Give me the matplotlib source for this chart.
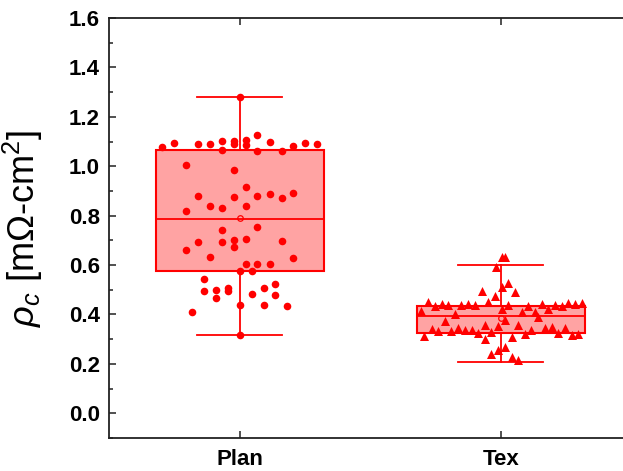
import matplotlib
matplotlib.use("Agg")
import matplotlib.pyplot as plt
from matplotlib.ticker import MultipleLocator

# --------------------------------------------------------------------------- #
# Data
# --------------------------------------------------------------------------- #
groups = ["Plan", "Tex"]

# box statistics: q1, median, q3, whisker low, whisker high, mean
plan_stats = dict(q1=0.575, med=0.787, q3=1.066, whislo=0.316, whishi=1.281, mean=0.789)
tex_stats = dict(q1=0.327, med=0.392, q3=0.435, whislo=0.209, whishi=0.599, mean=0.387)

# individual measurements, with the horizontal jitter offset of each point
plan_vals = [1.077, 1.096, 1.092, 1.090, 1.104, 1.066, 1.102, 1.090, 1.107, 1.084,
             1.125, 1.062, 1.098, 1.060, 1.083, 1.094, 1.090, 1.281,
             1.007, 0.983, 0.914, 0.879, 0.876, 0.881, 0.887, 0.870, 0.890,
             0.840, 0.830, 0.840, 0.818,
             0.740, 0.753, 0.694, 0.693, 0.702, 0.707, 0.697, 0.672, 0.659,
             0.631, 0.629, 0.606, 0.606, 0.604, 0.576, 0.576,
             0.545, 0.496, 0.500, 0.467, 0.508, 0.497, 0.482, 0.509, 0.525,
             0.477, 0.440, 0.440, 0.433, 0.409, 0.315]
plan_jit = [-0.299, -0.253, -0.161, -0.115, -0.069, -0.069, -0.023, -0.023, 0.023, 0.023,
            0.068, 0.068, 0.115, 0.161, 0.206, 0.252, 0.298, 0.0,
            -0.207, -0.023, 0.023, -0.161, -0.023, 0.068, 0.115, 0.161, 0.206,
            -0.115, -0.069, 0.023, -0.207,
            -0.069, 0.068, -0.161, -0.069, -0.023, 0.023, 0.161, -0.023, -0.207,
            -0.115, 0.206, 0.023, 0.068, 0.115, 0.0, 0.046,
            -0.137, -0.137, -0.092, -0.092, -0.046, -0.046, 0.046, 0.092, 0.137,
            0.137, 0.0, 0.092, 0.183, -0.183, 0.0]

tex_vals = [0.633, 0.633, 0.593, 0.529, 0.510, 0.494, 0.489, 0.474, 0.451, 0.450,
            0.436, 0.443, 0.439, 0.440, 0.441, 0.437, 0.437, 0.433, 0.444, 0.440,
            0.435, 0.446, 0.444, 0.447, 0.424, 0.421, 0.413, 0.402, 0.410, 0.412,
            0.390, 0.377, 0.373, 0.359, 0.352, 0.356, 0.347, 0.350, 0.347, 0.341,
            0.333, 0.332, 0.347, 0.336, 0.336, 0.325, 0.328, 0.339, 0.319, 0.325,
            0.316, 0.320, 0.312, 0.300, 0.307, 0.269, 0.255, 0.238, 0.226, 0.217]
tex_jit = [0.003, 0.015, -0.017, 0.028, 0.003, -0.074, 0.054, -0.023, -0.048, -0.278,
           -0.253, -0.227, -0.202, -0.151, -0.125, -0.099, 0.028, 0.105, 0.156, 0.207,
           0.233, 0.258, 0.284, 0.309, 0.181, 0.003, -0.304, -0.176, 0.079, 0.130,
           0.143, 0.015, -0.214, -0.061, -0.010, 0.066, 0.169, 0.194, 0.245, -0.265,
           -0.240, -0.189, -0.163, -0.138, -0.112, -0.087, -0.036, 0.117, 0.092, 0.220,
           0.271, 0.296, -0.295, -0.061, 0.041, 0.015, -0.010, -0.036, 0.041, 0.066]

# --------------------------------------------------------------------------- #
# Chart
# --------------------------------------------------------------------------- #
plt.rcParams["font.family"] = ["Liberation Sans", "DejaVu Sans"]
plt.rcParams["mathtext.fontset"] = "custom"
plt.rcParams["mathtext.rm"] = "Liberation Sans"
plt.rcParams["mathtext.it"] = "Liberation Sans:italic"

W, H = 623, 471
fig = plt.figure(figsize=(W / 100, H / 100), dpi=100)
ax = fig.add_axes([109 / W, (H - 438) / H, (631.5 - 109) / W, (438 - 18) / H])

red = "#ff0000"
stats = []
for name, s in zip(groups, [plan_stats, tex_stats]):
    d = dict(s)
    d["label"] = name
    d["fliers"] = []
    stats.append(d)

ax.bxp(stats, positions=[1, 2], widths=0.644, patch_artist=True, showmeans=True,
       showfliers=False,
       boxprops=dict(facecolor="#ffa3a3", edgecolor=red, linewidth=1.5),
       medianprops=dict(color=red, linewidth=1.3),
       whiskerprops=dict(color=red, linewidth=1.3),
       capprops=dict(color=red, linewidth=1.3),
       capwidths=0.325,
       meanprops=dict(marker="o", markerfacecolor="none", markeredgecolor=red,
                      markersize=4, markeredgewidth=0.9),
       zorder=2)

ax.scatter([1 + j for j in plan_jit], plan_vals, s=30, marker="o", color=red,
           linewidths=0, zorder=3)
ax.scatter([2 + j for j in tex_jit], tex_vals, s=42, marker="^", color=red,
           linewidths=0, zorder=3)

ax.set_xlim(0.5, 2.5)
ax.set_ylim(-0.1, 1.6)
ax.set_xticks([1, 2])
ax.set_xticklabels(groups)
ax.yaxis.set_major_locator(MultipleLocator(0.2))
ax.yaxis.set_minor_locator(MultipleLocator(0.1))
ax.yaxis.set_major_formatter(plt.FuncFormatter(lambda v, p: f"{v:.1f}"))

ax.tick_params(axis="both", which="both", direction="in", top=True,
               labelsize=16, width=1.1, colors="#222222", labelcolor="black")
ax.tick_params(axis="y", which="major", length=5, pad=6.5)
ax.tick_params(axis="y", which="minor", length=3)
ax.tick_params(axis="x", which="major", length=5, pad=8)
for lab in ax.get_xticklabels() + ax.get_yticklabels():
    lab.set_fontweight("bold")

for sp in ax.spines.values():
    sp.set_linewidth(1.3)
    sp.set_color("#222222")

ax.set_ylabel(r"$\it{\rho}_c$ [m$\Omega$-cm$^2$]", fontsize=26)
ax.yaxis.set_label_coords(-0.1225, 0.5)

fig.savefig("out.png", dpi=100)
